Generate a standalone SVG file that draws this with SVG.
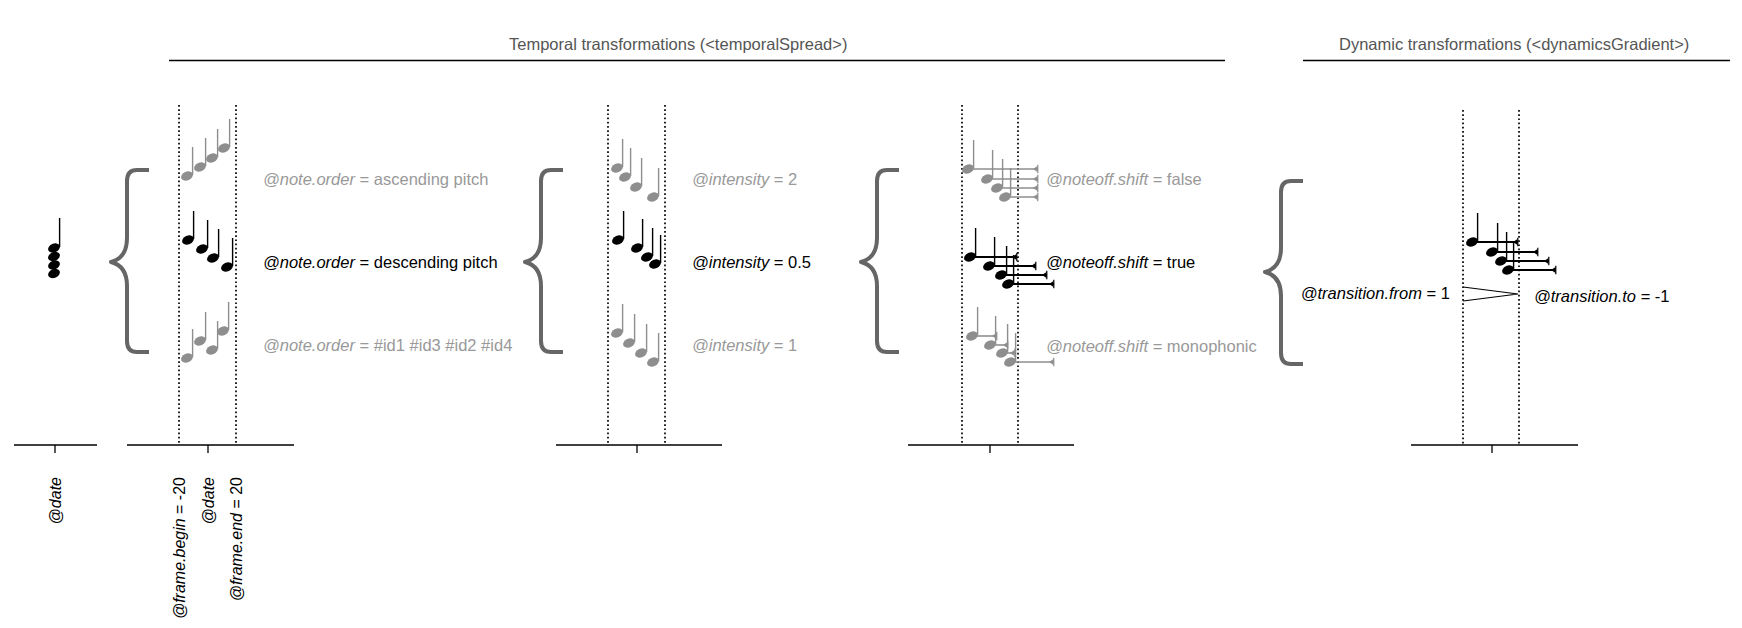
<svg xmlns="http://www.w3.org/2000/svg" xmlns:xlink="http://www.w3.org/1999/xlink" width="1742" height="628" viewBox="0 0 1742 628">
<style>
  text { font-family: "Liberation Sans", Arial, Helvetica, sans-serif; }
  .title { font-size: 16.5px; fill: #555; }
  .lbl { font-size: 16.5px; }
  .lk { fill: #000; }
  .lg { fill: #999; }
  .rot { font-size: 16px; fill: #000; }
  .it { font-style: italic; }
  .rule { stroke: #000; stroke-width: 1.3; fill: none; }
  .axis { stroke: #000; stroke-width: 1.3; fill: none; }
  .dot { stroke: #000; stroke-width: 1.7; stroke-dasharray: 1.7 2.5; fill: none; }
  .brace { stroke: #666; stroke-width: 4; fill: none; stroke-linejoin: round; }
  .k { color: #000; }
  .g { color: #8e8e8e; }
  .durk { stroke: #000; stroke-width: 2; marker-end: url(#endk); }
  .durg { stroke: #8e8e8e; stroke-width: 1.6; marker-end: url(#endg); }
  .hair { stroke: #000; stroke-width: 1.2; fill: none; }
</style>
<defs>
  <g id="note">
    <ellipse cx="0" cy="0" rx="6.2" ry="4.3" transform="rotate(-25)" fill="currentColor"/>
    <line x1="5.6" y1="-1" x2="5.6" y2="-29" stroke="currentColor" stroke-width="1.4"/>
  </g>
  <marker id="endk" markerUnits="userSpaceOnUse" viewBox="0 0 6 10" refX="5.5" refY="5" markerWidth="6" markerHeight="10" orient="auto">
    <path d="M0.5,5 L5,2 L5,8 Z" fill="#000"/>
    <line x1="5.3" y1="0.8" x2="5.3" y2="9.2" stroke="#000" stroke-width="1.2"/>
  </marker>
  <marker id="endg" markerUnits="userSpaceOnUse" viewBox="0 0 6 10" refX="5.5" refY="5" markerWidth="6" markerHeight="10" orient="auto">
    <path d="M0.5,5 L5,2 L5,8 Z" fill="#8e8e8e"/>
    <line x1="5.3" y1="0.8" x2="5.3" y2="9.2" stroke="#8e8e8e" stroke-width="1.2"/>
  </marker>
</defs>

<!-- headers -->
<g id="header-temporal">
  <text class="title" x="509" y="50">Temporal transformations (&lt;temporalSpread&gt;)</text>
  <line class="rule" x1="169" y1="60.5" x2="1225" y2="60.5"/>
</g>
<g id="header-dynamic">
  <text class="title" x="1339" y="50">Dynamic transformations (&lt;dynamicsGradient&gt;)</text>
  <line class="rule" x1="1303" y1="60.5" x2="1730" y2="60.5"/>
</g>

<!-- original chord -->
<g id="original">
  <g fill="#000">
    <ellipse cx="54" cy="248" rx="6.2" ry="4.3" transform="rotate(-25 54 248)"/>
    <ellipse cx="54" cy="256.5" rx="6.2" ry="4.3" transform="rotate(-25 54 256.5)"/>
    <ellipse cx="54" cy="265" rx="6.2" ry="4.3" transform="rotate(-25 54 265)"/>
    <ellipse cx="54" cy="273.5" rx="6.2" ry="4.3" transform="rotate(-25 54 273.5)"/>
  </g>
  <line x1="59.6" y1="218" x2="59.6" y2="247" stroke="#000" stroke-width="1.4"/>
  <line class="axis" x1="14" y1="445" x2="97" y2="445"/>
  <line class="axis" x1="55" y1="445" x2="55" y2="453"/>
  <text class="rot it" transform="translate(61,477) rotate(-90)" text-anchor="end">@date</text>
</g>

<!-- note.order section -->
<g id="brace-order"><path class="brace" d="M149,170 L137,170 Q127,170 127,181 L127,238 Q127,258 111,262 Q127,266 127,286 L127,341 Q127,352 137,352 L149,352"/></g>
<g id="frame-order">
  <line class="dot" x1="179" y1="105" x2="179" y2="444"/>
  <line class="dot" x1="236" y1="105" x2="236" y2="444"/>
  <line class="axis" x1="127" y1="445" x2="294" y2="445"/>
  <line class="axis" x1="208" y1="445" x2="208" y2="453"/>
  <text class="rot" transform="translate(185,477) rotate(-90)" text-anchor="end"><tspan class="it">@frame.begin</tspan> = -20</text>
  <text class="rot it" transform="translate(214,477) rotate(-90)" text-anchor="end">@date</text>
  <text class="rot" transform="translate(242,477) rotate(-90)" text-anchor="end"><tspan class="it">@frame.end</tspan> = 20</text>
</g>
<g id="order-ascending" class="g">
  <use xlink:href="#note" x="187" y="176"/>
  <use xlink:href="#note" x="200" y="167"/>
  <use xlink:href="#note" x="212" y="158"/>
  <use xlink:href="#note" x="224" y="148"/>
  <text class="lbl lg" x="263" y="185"><tspan class="it">@note.order</tspan> = ascending pitch</text>
</g>
<g id="order-descending" class="k">
  <use xlink:href="#note" x="188" y="240"/>
  <use xlink:href="#note" x="202" y="249"/>
  <use xlink:href="#note" x="213" y="258"/>
  <use xlink:href="#note" x="227" y="267"/>
  <text class="lbl lk" x="263" y="268"><tspan class="it">@note.order</tspan> = descending pitch</text>
</g>
<g id="order-ids" class="g">
  <use xlink:href="#note" x="187" y="358"/>
  <use xlink:href="#note" x="200" y="341"/>
  <use xlink:href="#note" x="212" y="350"/>
  <use xlink:href="#note" x="223" y="331"/>
  <text class="lbl lg" x="263" y="351"><tspan class="it">@note.order</tspan> = #id1 #id3 #id2 #id4</text>
</g>

<!-- intensity section -->
<g id="brace-intensity"><path class="brace" d="M563,170 L551,170 Q541,170 541,181 L541,238 Q541,258 525,262 Q541,266 541,286 L541,341 Q541,352 551,352 L563,352"/></g>
<g id="frame-intensity">
  <line class="dot" x1="608" y1="105" x2="608" y2="444"/>
  <line class="dot" x1="665" y1="105" x2="665" y2="444"/>
  <line class="axis" x1="556" y1="445" x2="722" y2="445"/>
  <line class="axis" x1="637" y1="445" x2="637" y2="453"/>
</g>
<g id="intensity-2" class="g">
  <use xlink:href="#note" x="617" y="168"/>
  <use xlink:href="#note" x="625" y="177"/>
  <use xlink:href="#note" x="636" y="187"/>
  <use xlink:href="#note" x="653" y="197"/>
  <text class="lbl lg" x="692" y="185"><tspan class="it">@intensity</tspan> = 2</text>
</g>
<g id="intensity-05" class="k">
  <use xlink:href="#note" x="618" y="240"/>
  <use xlink:href="#note" x="637" y="248"/>
  <use xlink:href="#note" x="647" y="257"/>
  <use xlink:href="#note" x="655" y="264"/>
  <text class="lbl lk" x="692" y="268"><tspan class="it">@intensity</tspan> = 0.5</text>
</g>
<g id="intensity-1" class="g">
  <use xlink:href="#note" x="617" y="333"/>
  <use xlink:href="#note" x="629" y="343"/>
  <use xlink:href="#note" x="641" y="353"/>
  <use xlink:href="#note" x="653" y="362"/>
  <text class="lbl lg" x="692" y="351"><tspan class="it">@intensity</tspan> = 1</text>
</g>

<!-- noteoff.shift section -->
<g id="brace-noteoff"><path class="brace" d="M899,170 L887,170 Q877,170 877,181 L877,238 Q877,258 861,262 Q877,266 877,286 L877,341 Q877,352 887,352 L899,352"/></g>
<g id="frame-noteoff">
  <line class="dot" x1="962" y1="105" x2="962" y2="444"/>
  <line class="dot" x1="1018" y1="105" x2="1018" y2="444"/>
  <line class="axis" x1="908" y1="445" x2="1074" y2="445"/>
  <line class="axis" x1="990" y1="445" x2="990" y2="453"/>
</g>
<g id="noteoff-false" class="g">
  <line class="durg" x1="968" y1="169" x2="1038" y2="169"/>
  <line class="durg" x1="987" y1="179" x2="1038" y2="179"/>
  <line class="durg" x1="997" y1="188" x2="1038" y2="188"/>
  <line class="durg" x1="1005" y1="197" x2="1038" y2="197"/>
  <use xlink:href="#note" x="968" y="169"/>
  <use xlink:href="#note" x="987" y="179"/>
  <use xlink:href="#note" x="997" y="188"/>
  <use xlink:href="#note" x="1005" y="197"/>
  <text class="lbl lg" x="1046" y="185"><tspan class="it">@noteoff.shift</tspan> = false</text>
</g>
<g id="noteoff-true" class="k">
  <line class="durk" x1="970" y1="257" x2="1017" y2="257"/>
  <line class="durk" x1="989" y1="266" x2="1036" y2="266"/>
  <line class="durk" x1="1001" y1="275" x2="1047" y2="275"/>
  <line class="durk" x1="1008" y1="284" x2="1054" y2="284"/>
  <use xlink:href="#note" x="970" y="257"/>
  <use xlink:href="#note" x="989" y="266"/>
  <use xlink:href="#note" x="1001" y="275"/>
  <use xlink:href="#note" x="1008" y="284"/>
  <text class="lbl lk" x="1046" y="268"><tspan class="it">@noteoff.shift</tspan> = true</text>
</g>
<g id="noteoff-monophonic" class="g">
  <line class="durg" x1="972" y1="336" x2="997" y2="336"/>
  <line class="durg" x1="990" y1="345" x2="1008" y2="345"/>
  <line class="durg" x1="1002" y1="353" x2="1015" y2="353"/>
  <line class="durg" x1="1010" y1="362" x2="1054" y2="362"/>
  <use xlink:href="#note" x="972" y="336"/>
  <use xlink:href="#note" x="990" y="345"/>
  <use xlink:href="#note" x="1002" y="353"/>
  <use xlink:href="#note" x="1010" y="362"/>
  <text class="lbl lg" x="1046" y="352"><tspan class="it">@noteoff.shift</tspan> = monophonic</text>
</g>

<!-- dynamics section -->
<g id="brace-dynamics"><path class="brace" d="M1303,181 L1291,181 Q1281,181 1281,192 L1281,248 Q1281,268 1265,272 Q1281,276 1281,296 L1281,353 Q1281,364 1291,364 L1303,364"/></g>
<g id="frame-dynamics">
  <line class="dot" x1="1463" y1="110" x2="1463" y2="444"/>
  <line class="dot" x1="1519" y1="110" x2="1519" y2="444"/>
  <line class="axis" x1="1411" y1="445" x2="1578" y2="445"/>
  <line class="axis" x1="1492" y1="445" x2="1492" y2="453"/>
</g>
<g id="dynamics-notes" class="k">
  <line class="durk" x1="1472" y1="242" x2="1518" y2="242"/>
  <line class="durk" x1="1492" y1="252" x2="1538" y2="252"/>
  <line class="durk" x1="1501" y1="261" x2="1549" y2="261"/>
  <line class="durk" x1="1508" y1="270" x2="1556" y2="270"/>
  <use xlink:href="#note" x="1472" y="242"/>
  <use xlink:href="#note" x="1492" y="252"/>
  <use xlink:href="#note" x="1501" y="261"/>
  <use xlink:href="#note" x="1508" y="270"/>
</g>
<g id="dynamics-hairpin">
  <path class="hair" d="M1463,287 L1518,294 L1463,301"/>
  <text class="lbl lk" x="1450" y="299" text-anchor="end"><tspan class="it">@transition.from</tspan> = 1</text>
  <text class="lbl lk" x="1534" y="302"><tspan class="it">@transition.to</tspan> = -1</text>
</g>
</svg>
